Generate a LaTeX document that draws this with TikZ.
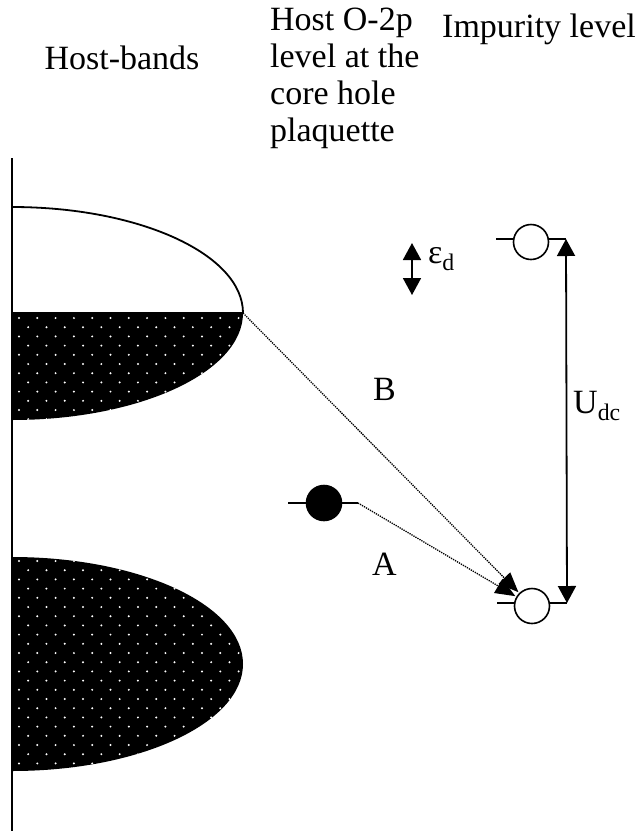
\documentclass[tikz,border=0pt]{standalone}
\usepackage{fontspec}
\setmainfont{Liberation Serif}
\usepackage{tikz}
\usetikzlibrary{arrows.meta, positioning, calc}

\newcommand{\figfont}{\fontsize{34}{37}\selectfont}

\begin{document}
\begin{tikzpicture}[
    x = 1pt, y = -1pt,
    lbl/.style   = {font = \figfont, inner sep = 0pt},
    band/.style  = {line width = 1.8pt},
    level/.style = {line width = 1.6pt},
    hole/.style  = {circle, draw, fill = white, line width = 1.6pt,
                    minimum size = 35pt, inner sep = 0pt},
    elec/.style  = {hole, fill = black},
    trans/.style = {-{Triangle[length=20pt, width=16pt]}, densely dotted,
                    line width = 1.3pt, shorten > = 1pt},
    gap/.style   = {{Triangle[length=17pt, width=18pt]}-{Triangle[length=17pt, width=18pt]},
                    line width = 1.8pt},
  ]
    \useasboundingbox (0,0) rectangle (636,831);

    %% ── Column headings ──────────────────────────────────────────
    \node[lbl, anchor = base] (Hhost) at (122,69) {Host-bands};
    \node[lbl, align = left, anchor = north west] (Hopp) at (270,8)
      {Host O-2p\\level at the\\core hole\\plaquette};
    \node[lbl, anchor = base west] (Himp) at (442,37) {Impurity level};

    %% ── Energy axis ──────────────────────────────────────────────
    \draw[band] (12,158) -- (12,831);

    %% ── Upper host band (half filled) ────────────────────────────
    \begin{scope}
      \clip (12,313) -- (243,313)
        arc[start angle = 0, end angle = 90, x radius = 231, y radius = 107]
        -- cycle;
      \fill[black] (0,300) rectangle (260,430);
      \foreach \r in {0,...,11}
        \foreach \c in {0,...,12}
          \fill[white] ({19+18.3*\c+9.15*mod(\r,2)}, {318+9.2*\r}) circle[radius = 1.1pt];
    \end{scope}
    \draw[band] (12,207)
      arc[start angle = -90, end angle = 0, x radius = 231, y radius = 106]
      coordinate (Btip);
    \draw[band] (12,313) -- (Btip);

    %% ── Lower host band (filled) ─────────────────────────────────
    \begin{scope}
      \clip (12,557)
        arc[start angle = -90, end angle = 90, x radius = 231, y radius = 107]
        -- cycle;
      \fill[black] (0,550) rectangle (260,780);
      \foreach \r in {0,...,23}
        \foreach \c in {0,...,12}
          \fill[white] ({19+18.3*\c+9.15*mod(\r,2)}, {561+9.2*\r}) circle[radius = 1.1pt];
    \end{scope}

    %% ── Host O-2p level ──────────────────────────────────────────
    \draw[level] (288,503) -- (358,503) coordinate (Aend);
    \node[elec] (O2p) at (324,503) {};

    %% ── Impurity levels ──────────────────────────────────────────
    \draw[level] (496,239) -- (566,239) coordinate (Uup);
    \node[hole] (dup) at (531,242) {};
    \draw[level] (497,603) -- (567,603) coordinate (Ulow);
    \node[hole] (dlow) at (532,606) {};

    %% ── Level shift and Coulomb energy ───────────────────────────
    \coordinate (Etop) at (412,243);
    \coordinate (Ebot) at (412,295);
    \draw[gap] (Etop) -- (Ebot);
    \node[lbl, anchor = base west] (eps) at (428,263) {ε\textsubscript{d}};
    \draw[gap] (Uup) -- (Ulow);
    \node[lbl, anchor = base west] (Udc) at (573,413) {U\textsubscript{dc}};

    %% ── Transitions ──────────────────────────────────────────────
    \draw[trans] (Btip) -- (dlow);
    \draw[trans] (Aend) -- (dlow);
    \node[lbl, anchor = base west] (Blbl) at (373,400) {B};
    \node[lbl, anchor = base west] (Albl) at (372,575) {A};
  \end{tikzpicture}
\end{document}
